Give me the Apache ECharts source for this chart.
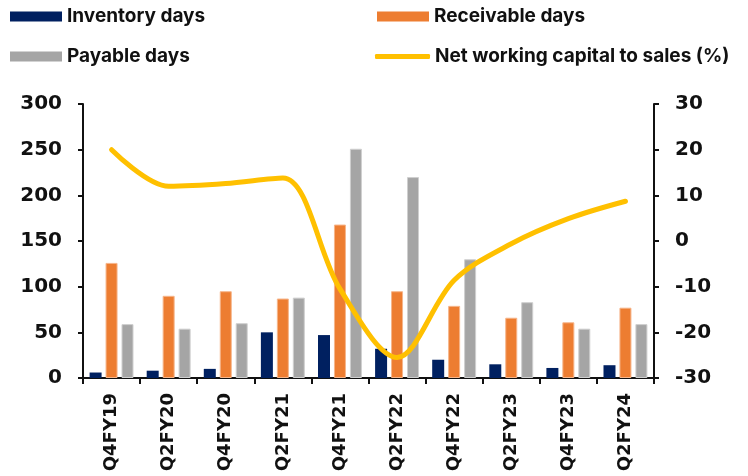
<!DOCTYPE html>
<html>
<head>
<meta charset="utf-8">
<script src="https://cdn.jsdelivr.net/npm/echarts@6/dist/echarts.min.js"></script>
<style>
  html, body { margin: 0; padding: 0; background: #fff; }
  #chart { width: 748px; height: 476px; }
</style>
</head>
<body>
<div id="chart"></div>
<script>
// Working-capital cycle by half-year
const quarters = ['Q4FY19', 'Q2FY20', 'Q4FY20', 'Q2FY21', 'Q4FY21', 'Q2FY22', 'Q4FY22', 'Q2FY23', 'Q4FY23', 'Q2FY24'];
const inventoryDays = [6, 8, 10, 50, 47, 32, 20, 15, 11, 14];
const receivableDays = [126, 90, 95, 87, 168, 95, 79, 66, 61, 77];
const payableDays = [59, 54, 60, 88, 251, 220, 130, 83, 54, 59];
const nwcToSales = [20, 12, 12.6, 13.8, -10.5, -25.5, -8.6, -0.6, 4.9, 8.7];

const daysTicks = [0, 50, 100, 150, 200, 250, 300];
const pctTicks = [-30, -20, -10, 0, 10, 20, 30];

const NAVY = '#002060', ORANGE = '#ED7D31', GREY = '#A5A5A5', GOLD = '#FFC000';
const AXIS_FONT = 'DejaVu Sans';
const LEGEND_FONT = 'Inter';

const legendText = { fontFamily: LEGEND_FONT, fontWeight: 'bold', fontSize: 19, color: '#111' };
function legendAt(name, color, left, top, w, h, icon) {
  return {
    data: [name], left: left, top: top, padding: 0,
    itemWidth: w, itemHeight: h, itemGap: 0, icon: icon,
    itemStyle: { color: color, borderColor: color, borderWidth: 0 },
    textStyle: legendText, selectedMode: false
  };
}

const chart = echarts.init(document.getElementById('chart'), null, { renderer: 'canvas' });
const axisLabelStyle = { fontFamily: AXIS_FONT, fontWeight: 'bold', fontSize: 20, color: '#111' };

chart.setOption({
  animation: false,
  backgroundColor: '#fff',
  legend: [
    legendAt('Inventory days', NAVY, 10, 7, 52, 10, 'rect'),
    legendAt('Receivable days', ORANGE, 377, 7, 52, 10, 'rect'),
    legendAt('Payable days', GREY, 10, 47, 52, 10, 'rect'),
    legendAt('Net working capital to sales (%)', GOLD, 375, 47, 55, 5, 'roundRect')
  ],
  grid: { left: 83, right: 94, top: 104, bottom: 98 },
  xAxis: {
    type: 'category',
    data: quarters,
    axisLine: { lineStyle: { color: '#111', width: 2 } },
    axisTick: { show: true, length: 6, lineStyle: { color: '#111', width: 2 } },
    axisLabel: { rotate: 90, margin: 15, fontFamily: AXIS_FONT, fontWeight: 'bold', fontSize: 18, color: '#111' }
  },
  yAxis: [
    {
      type: 'value', min: daysTicks[0], max: daysTicks[daysTicks.length - 1], interval: 50,
      axisLine: { show: true, lineStyle: { color: '#111', width: 2 } },
      axisTick: { show: true, length: 5, lineStyle: { color: '#111', width: 2 } },
      splitLine: { show: false },
      axisLabel: Object.assign({ margin: 21 }, axisLabelStyle)
    },
    {
      type: 'value', min: pctTicks[0], max: pctTicks[pctTicks.length - 1], interval: 10,
      position: 'right',
      axisLine: { show: true, lineStyle: { color: '#111', width: 2 } },
      axisTick: { show: true, length: 5, lineStyle: { color: '#111', width: 2 } },
      splitLine: { show: false },
      axisLabel: Object.assign({ margin: 21 }, axisLabelStyle)
    }
  ],
  series: [
    { name: 'Inventory days', type: 'bar', data: inventoryDays, barWidth: 12, barGap: '33%',
      itemStyle: { color: NAVY } },
    { name: 'Receivable days', type: 'bar', data: receivableDays, barWidth: 12, barGap: '33%',
      itemStyle: { color: ORANGE, borderColor: '#F6B58A', borderWidth: 1 } },
    { name: 'Payable days', type: 'bar', data: payableDays, barWidth: 12, barGap: '33%',
      itemStyle: { color: GREY, borderColor: '#CFCFCF', borderWidth: 1 } },
    { name: 'Net working capital to sales (%)', type: 'line', yAxisIndex: 1, data: nwcToSales,
      smooth: 0.33, showSymbol: false, symbol: 'none', z: 5,
      itemStyle: { color: GOLD },
      lineStyle: { color: GOLD, width: 5, cap: 'round', join: 'round' } }
  ]
});
</script>
</body>
</html>
